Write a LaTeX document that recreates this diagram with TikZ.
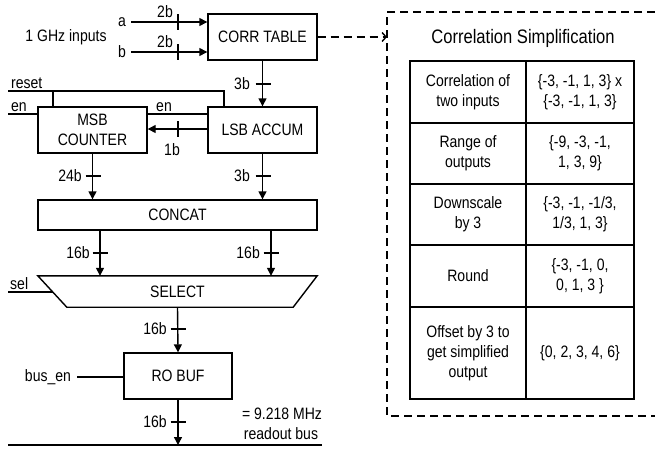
\documentclass[tikz,border=0pt]{standalone}
\usepackage{fontspec}
\setmainfont{Liberation Sans}[FakeStretch=0.85]
\usetikzlibrary{arrows.meta}
\begin{document}
\begin{tikzpicture}[x=1pt,y=-1pt,
  every node/.style={font=\fontsize{16.5}{20}\selectfont, inner sep=0pt, align=center},
  wire/.style={line width=1.4pt},
  blk/.style={draw, line width=1.4pt, rectangle},
  arr/.style={wire, -{Triangle[length=8pt,width=8pt]}},
  dsh/.style={line width=1.4pt, dash pattern=on 8pt off 5pt},
  lcell/.style={draw, line width=1.9pt, minimum width=116pt},
  rcell/.style={draw, line width=1.9pt, minimum width=108pt},
  tick/.style={line width=1.4pt}
]
\useasboundingbox (0,0) rectangle (655,448);

% blocks
\node[blk, minimum width=109pt, minimum height=46pt] (corr) at (262.5,37) {CORR TABLE};
\node[blk, minimum width=109pt, minimum height=46pt] (lsb) at (262.5,130) {LSB ACCUM};
\node[blk, minimum width=109pt, minimum height=46pt] (msb) at (92.5,130) {MSB\\COUNTER};
\node[blk, minimum width=279pt, minimum height=30pt] (concat) at (177.5,215) {CONCAT};
\node[minimum width=279pt, minimum height=31pt] (select) at (177.5,291.5) {SELECT};
\draw[wire] (select.north west) -- (select.north east) -- ([xshift=-24pt]select.south east) -- ([xshift=29pt]select.south west) -- cycle;
\node[blk, minimum width=108pt, minimum height=46pt] (ro) at (178,376) {RO BUF};

% inputs
\node (gin) at (66,37) {1 GHz inputs};
\node (a) at (122,22) {a};
\node (b) at (122,52) {b};
\draw[arr] ([xshift=5pt]a.east) -- (a -| corr.west);
\draw[arr] ([xshift=5pt]b.east) -- (b -| corr.west);
\draw[tick] (178,14) -- (178,30);
\draw[tick] (178,44) -- (178,60);
\node (la) at (165,12) {2b};
\node (lb) at (165,42) {2b};

% corr -> lsb
\draw[arr] (corr.south) -- (lsb.north);
\draw[tick] (255.5,84) -- (270.5,84);
\node[anchor=east] (l3a) at (250,84) {3b};

% reset / en
\coordinate (rs) at (8,91);
\coordinate (rj) at (53,91);
\draw[wire] (rs) -| ([xshift=-38.5pt]lsb.north);
\draw[wire] (rj) -- (rj |- msb.north);
\node[anchor=base west] (lreset) at (11,88) {reset};
\coordinate (enl) at (8,114);
\draw[wire] (enl) -- (enl -| msb.west);
\node[anchor=base west] (len1) at (11,111) {en};
\draw[wire] ([yshift=16pt]msb.east) -- ([yshift=16pt]lsb.west);
\node[anchor=base west] (len2) at (156,111) {en};
\draw[arr] ([yshift=1pt]lsb.west) -- ([yshift=1pt]msb.east);
\draw[tick] (178,121) -- (178,137);
\node (l1b) at (172,150) {1b};

% to concat
\draw[arr] (msb.south) -- (msb.south |- concat.north);
\draw[tick] (85.5,176) -- (100.5,176);
\node[anchor=east] (l24) at (82,176) {24b};
\draw[arr] (lsb.south) -- (lsb.south |- concat.north);
\draw[tick] (255.5,176) -- (270.5,176);
\node[anchor=east] (l3b) at (250,176) {3b};

% concat -> select
\coordinate (c1) at (100,230);
\coordinate (c2) at (271,230);
\draw[arr] (c1) -- (c1 |- select.north);
\draw[arr] (c2) -- (c2 |- select.north);
\draw[tick] (92.5,253) -- (107.5,253);
\draw[tick] (263.5,253) -- (278.5,253);
\node[anchor=east] (l16a) at (90,253) {16b};
\node[anchor=east] (l16b) at (260,253) {16b};

% sel
\coordinate (sl) at (8,292);
\draw[wire] (sl) -- (53,292);
\node[anchor=base west] (lsel) at (10,289) {sel};

% select -> ro
\draw[arr] (select.south) -- (ro.north);
\draw[tick] (170.5,329) -- (185.5,329);
\node[anchor=east] (l16c) at (167,329) {16b};

% bus_en
\node (busen) at (48,377) {bus\_en};
\draw[wire] ([xshift=6pt]busen.east) -- (busen -| ro.west);

% bus
\coordinate (busL) at (8,445);
\coordinate (busR) at (322,445);
\draw[wire] (busL) -- (busR);
\draw[arr] (ro.south) -- (ro.south |- busL);
\draw[tick] (170.5,422) -- (185.5,422);
\node[anchor=east] (l16d) at (167,422) {16b};
\node (mhz) at (282,414) {= 9.218 MHz};
\node (rob) at (281,434) {readout bus};

% dashed box
\coordinate (dtl) at (387,12);
\coordinate (dbl) at (387,416);
\draw[dsh] (655,12) -- (dtl) -- (dbl) -- (655,416);
\draw[dsh, -{Straight Barb[length=4pt,width=9pt]}] (corr.east) -- (corr.east -| dtl);
\node[font=\fontsize{19.5}{22}\selectfont] (title) at (523,38) {Correlation Simplification};

% table
\node[lcell, minimum height=62pt] (t11) at (468,92) {Correlation of\\two inputs};
\node[rcell, minimum height=62pt] (t12) at (580,92) {\{-3, -1, 1, 3\} x\\\{-3, -1, 1, 3\}};
\node[lcell, minimum height=61pt] (t21) at (468,153.5) {Range of\\outputs};
\node[rcell, minimum height=61pt] (t22) at (580,153.5) {\{-9, -3, -1,\\1, 3, 9\}};
\node[lcell, minimum height=61pt] (t31) at (468,214.5) {Downscale\\by 3};
\node[rcell, minimum height=61pt] (t32) at (580,214.5) {\{-3, -1, -1/3,\\1/3, 1, 3\}};
\node[lcell, minimum height=62pt] (t41) at (468,276) {Round};
\node[rcell, minimum height=62pt] (t42) at (580,276) {\{-3, -1, 0,\\0, 1, 3 \}};
\node[lcell, minimum height=92pt] (t51) at (468,353) {Offset by 3 to\\get simplified\\output};
\node[rcell, minimum height=92pt] (t52) at (580,353) {\{0, 2, 3, 4, 6\}};
\end{tikzpicture}
\end{document}
